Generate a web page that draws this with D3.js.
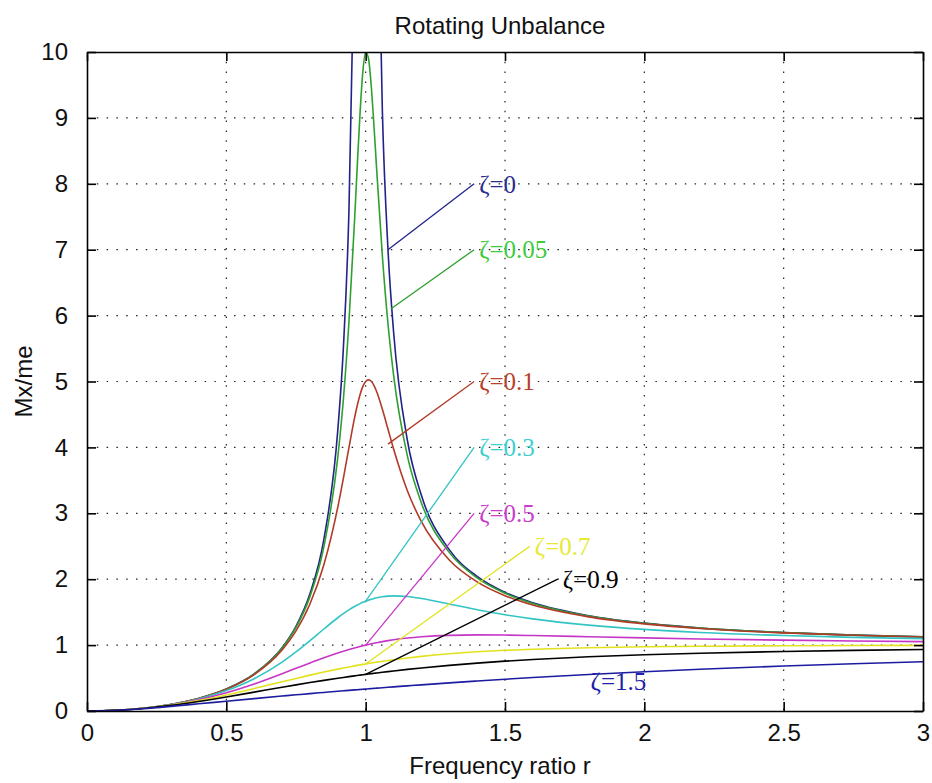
<!DOCTYPE html>
<html>
<head>
<meta charset="utf-8">
<script src="https://cdn.jsdelivr.net/npm/d3@7"></script>
<style>
  body { margin: 0; background: #fff; }
  svg text { font-family: "Liberation Sans", Arial, sans-serif; }
</style>
</head>
<body>
<script>
// frequency ratio samples (x)
var r = [0, 0.1, 0.2, 0.3, 0.4, 0.5, 0.6, 0.7, 0.75, 0.8, 0.85, 0.9, 0.92, 0.94, 0.96, 0.97, 0.98, 0.99,
  1.0, 1.01, 1.02, 1.03, 1.04, 1.06, 1.08, 1.1, 1.15, 1.2, 1.3, 1.4, 1.5, 1.6, 1.8, 2.0, 2.2, 2.5, 2.75, 3.0];

// Mx/me (null = off the chart)
var z0 = [0, 0.0101, 0.0417, 0.0989, 0.1905, 0.3333, 0.5625, 0.9608, 1.2857, 1.7778, 2.6036, 4.263, 5.510, 7.591, 11.755, null, null, null,
  null, null, null, null, 13.25, 9.091, 7.010, 5.762, 4.101, 3.273, 2.449, 2.042, 1.800, 1.641, 1.446, 1.333, 1.260, 1.190, 1.152, 1.125];
var z005 = [0, 0.0101, 0.0417, 0.0988, 0.1903, 0.3326, 0.5600, 0.9518, 1.2672, 1.7355, 2.4894, 3.8527, 4.7274, 5.9057, 7.4353, 8.2836, 9.0862, 9.7059,
  10.0, 9.9058, 9.4834, 8.8660, 8.1820, 6.9005, 5.8797, 5.1040, 3.8626, 3.1574, 2.4069, 2.0203, 1.7872, 1.6325, 1.4418, 1.3304, 1.2583, 1.1891, 1.1514, 1.1242];
var z01 = [0, 0.0101, 0.0416, 0.0987, 0.1896, 0.3304, 0.5529, 0.9265, 1.2162, 1.6246, 2.2201, 3.0948, 3.5313, 3.9960, 4.4438, 4.6395, 4.8030, 4.9251,
  5.0, 5.0251, 5.0029, 4.9386, 4.8409, 4.5786, 4.2779, 3.9784, 3.3387, 2.8731, 2.2920, 1.9600, 1.7503, 1.6076, 1.4281, 1.3216, 1.2522, 1.1851, 1.1484, 1.1219];
var z03 = [0, 0.0101, 0.0413, 0.0970, 0.1831, 0.3095, 0.4903, 0.7417, 0.8962, 1.0667, 1.2444, 1.4150, 1.4772, 1.5343, 1.5854, 1.6084, 1.6296, 1.6491,
  1.6667, 1.6824, 1.6963, 1.7084, 1.7187, 1.7342, 1.7434, 1.7470, 1.7364, 1.7066, 1.6228, 1.5365, 1.4608, 1.3976, 1.3029, 1.2380, 1.1920, 1.1447, 1.1176, 1.0976];
var z05 = [0, 0.0101, 0.0408, 0.0939, 0.1720, 0.2774, 0.4104, 0.5658, 0.6478, 0.7295, 0.8080, 0.8806, 0.9074, 0.9329, 0.9568, 0.9682, 0.9792, 0.9898,
  1.0, 1.0098, 1.0192, 1.0282, 1.0368, 1.0529, 1.0674, 1.0805, 1.1073, 1.1266, 1.1483, 1.1546, 1.1523, 1.1456, 1.1275, 1.1094, 1.0936, 1.0748, 1.0628, 1.0534];
var z07 = [0, 0.0100, 0.0400, 0.0898, 0.1585, 0.2437, 0.3409, 0.4435, 0.4945, 0.5440, 0.5913, 0.6357, 0.6525, 0.6688, 0.6845, 0.6922, 0.6997, 0.7071,
  0.7143, 0.7214, 0.7283, 0.7350, 0.7417, 0.7545, 0.7668, 0.7785, 0.8054, 0.8292, 0.8683, 0.8981, 0.9207, 0.9378, 0.9609, 0.9747, 0.9832, 0.9905, 0.9940, 0.9961];
var z09 = [0, 0.0099, 0.0390, 0.0851, 0.1446, 0.2134, 0.2868, 0.3605, 0.3964, 0.4312, 0.4646, 0.4966, 0.5089, 0.5210, 0.5328, 0.5386, 0.5443, 0.5500,
  0.5556, 0.5611, 0.5665, 0.5719, 0.5772, 0.5877, 0.5978, 0.6077, 0.6313, 0.6533, 0.6927, 0.7268, 0.7562, 0.7816, 0.8226, 0.8536, 0.8774, 0.9039, 0.9200, 0.9325];
var z15 = [0, 0.0097, 0.0353, 0.0703, 0.1092, 0.1491, 0.1884, 0.2267, 0.2454, 0.2637, 0.2817, 0.2993, 0.3062, 0.3131, 0.3199, 0.3233, 0.3266, 0.3300,
  0.3333, 0.3367, 0.3400, 0.3433, 0.3465, 0.3531, 0.3595, 0.3659, 0.3817, 0.3970, 0.4267, 0.4549, 0.4818, 0.5072, 0.5542, 0.5963, 0.6339, 0.6827, 0.7174, 0.7474];

var seriesNames = ["ζ=0", "ζ=0.05", "ζ=0.1", "ζ=0.3", "ζ=0.5", "ζ=0.7", "ζ=0.9", "ζ=1.5"];
var seriesValues = [z0, z005, z01, z03, z05, z07, z09, z15];
var lineColors = ["#22228a", "#2f9f2f", "#b23a28", "#33c4c4", "#c636c6", "#e2e21c", "#000000", "#1c1ca0"];
var textColors = ["#2a2a90", "#3ccc3c", "#b8402c", "#3cd0d0", "#cc3ccc", "#e8e830", "#000000", "#2020a8"];

// label anchor and pointer end, in data units
var labelX = [1.4, 1.4, 1.4, 1.4, 1.4, 1.6, 1.7, 1.8];
var labelY = [8, 7, 5, 4, 3, 2.5, 2, 0.45];
var pointerX = [1.08, 1.09, 1.08, 1.0, 1.0, 1.0, 1.0, null];
var pointerY = [7.0, 6.1, 4.05, 1.667, 1.0, 0.714, 0.556, null];

var xTicks = [0, 0.5, 1, 1.5, 2, 2.5, 3];
var yTicks = [0, 1, 2, 3, 4, 5, 6, 7, 8, 9, 10];

var width = 932, height = 783;
var margin = { top: 52, right: 9, bottom: 72, left: 87 };
var plotW = width - margin.left - margin.right;
var plotH = height - margin.top - margin.bottom;

var svg = d3.select("body").append("svg").attr("width", width).attr("height", height);

var x = d3.scaleLinear().domain([0, 3]).range([margin.left, margin.left + plotW]);
var y = d3.scaleLinear().domain([0, 10]).range([margin.top + plotH, margin.top]);

svg.append("clipPath").attr("id", "plotclip").append("rect")
  .attr("x", margin.left).attr("y", margin.top).attr("width", plotW).attr("height", plotH);

// dotted grid
svg.append("g").selectAll("line").data(xTicks.slice(1, -1)).enter().append("line")
  .attr("x1", function(d) { return x(d); }).attr("x2", function(d) { return x(d); })
  .attr("y1", margin.top).attr("y2", margin.top + plotH)
  .attr("stroke", "#222").attr("stroke-width", 1.2).attr("stroke-dasharray", "1.5,8.3");
svg.append("g").selectAll("line").data(yTicks.slice(1, -1)).enter().append("line")
  .attr("y1", function(d) { return y(d); }).attr("y2", function(d) { return y(d); })
  .attr("x1", margin.left).attr("x2", margin.left + plotW)
  .attr("stroke", "#222").attr("stroke-width", 1.2).attr("stroke-dasharray", "1.5,8.3");

// curves
var line = d3.line()
  .defined(function(d) { return d[1] !== null; })
  .x(function(d) { return x(d[0]); })
  .y(function(d) { return y(d[1]); })
  .curve(d3.curveMonotoneX);

var curves = svg.append("g").attr("clip-path", "url(#plotclip)");
seriesValues.forEach(function(vals, i) {
  curves.append("path")
    .datum(r.map(function(rv, j) { return [rv, vals[j]]; }))
    .attr("fill", "none").attr("stroke", lineColors[i]).attr("stroke-width", 1.6)
    .attr("d", line);
});

// pointer lines and labels
seriesNames.forEach(function(name, i) {
  if (pointerX[i] !== null) {
    svg.append("line")
      .attr("x1", x(pointerX[i])).attr("y1", y(pointerY[i]))
      .attr("x2", x(labelX[i]) - 3).attr("y2", y(labelY[i]))
      .attr("stroke", lineColors[i]).attr("stroke-width", 1.3);
  }
  svg.append("text")
    .attr("x", x(labelX[i]) + 2).attr("y", y(labelY[i])).attr("dy", "0.35em")
    .attr("fill", textColors[i])
    .style("font-family", "'Liberation Serif', 'Times New Roman', serif")
    .style("font-size", "25px")
    .text(name);
});

// axes (ticks inward, box on all sides)
var fontSize = "24px";
var xAxisB = d3.axisBottom(x).tickValues(xTicks).tickSizeInner(-9).tickSizeOuter(0).tickPadding(13)
  .tickFormat(function(d) { return String(d); });
var xAxisT = d3.axisTop(x).tickValues(xTicks).tickSizeInner(-9).tickSizeOuter(0).tickFormat("");
var yAxisL = d3.axisLeft(y).tickValues(yTicks).tickSizeInner(-9).tickSizeOuter(0).tickPadding(19)
  .tickFormat(function(d) { return String(d); });
var yAxisR = d3.axisRight(y).tickValues(yTicks).tickSizeInner(-9).tickSizeOuter(0).tickFormat("");

function styleAxis(g) {
  g.selectAll(".domain").attr("stroke", "#000").attr("stroke-width", 1.6);
  g.selectAll(".tick line").attr("stroke", "#000").attr("stroke-width", 1.6);
  g.selectAll(".tick text").attr("fill", "#111").style("font-size", fontSize)
    .style("font-family", "'Liberation Sans', Arial, sans-serif");
}

svg.append("g").attr("transform", "translate(0," + (margin.top + plotH) + ")").call(xAxisB).call(styleAxis)
  .selectAll(".tick text").attr("dy", "0.71em");
svg.append("g").attr("transform", "translate(0," + margin.top + ")").call(xAxisT).call(styleAxis);
svg.append("g").attr("transform", "translate(" + margin.left + ",0)").call(yAxisL).call(styleAxis);
svg.append("g").attr("transform", "translate(" + (margin.left + plotW) + ",0)").call(yAxisR).call(styleAxis);

// titles
svg.append("text").attr("x", 500).attr("y", 34).attr("text-anchor", "middle")
  .attr("fill", "#111").style("font-size", "24px").text("Rotating Unbalance");
svg.append("text").attr("x", 500).attr("y", 774).attr("text-anchor", "middle")
  .attr("fill", "#111").style("font-size", "24px").text("Frequency ratio r");
svg.append("text").attr("transform", "translate(32," + (margin.top + plotH / 2) + ") rotate(-90)")
  .attr("text-anchor", "middle").attr("fill", "#111").style("font-size", "24px").text("Mx/me");
</script>
</body>
</html>
